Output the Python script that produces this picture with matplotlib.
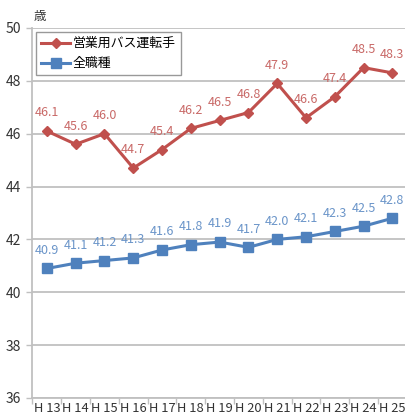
import numpy as np
import matplotlib
matplotlib.use('Agg')
from matplotlib import pyplot as plt

plt.rcParams['font.family'] = ['Noto Sans CJK JP', 'DejaVu Sans']

years = ['H 13', 'H 14', 'H 15', 'H 16', 'H 17', 'H 18', 'H 19',
         'H 20', 'H 21', 'H 22', 'H 23', 'H 24', 'H 25']
bus_drivers = [46.1, 45.6, 46.0, 44.7, 45.4, 46.2, 46.5,
               46.8, 47.9, 46.6, 47.4, 48.5, 48.3]
all_jobs = [40.9, 41.1, 41.2, 41.3, 41.6, 41.8, 41.9,
            41.7, 42.0, 42.1, 42.3, 42.5, 42.8]

RED = '#c0504d'
BLUE = '#4f81bd'
GRID = '#c0c0c0'


def add_labels(ax, xs, values, color):
    for x, v in zip(xs, values):
        ax.annotate('%.1f' % v, (x, v), xytext=(0, 13), textcoords='offset points',
                    ha='center', va='center', fontsize=9, color=color)


fig = plt.figure(figsize=(4.06, 4.2), dpi=100)
ax = fig.add_axes([0.080, 0.0524, 0.922, 0.881])

x = np.arange(len(years))
ax.plot(x, bus_drivers, color=RED, lw=2.2, marker='D', ms=5.5, label='営業用バス運転手', zorder=3)
ax.plot(x, all_jobs, color=BLUE, lw=2.2, marker='s', ms=6.5, label='全職種', zorder=3)
add_labels(ax, x, bus_drivers, '#c96a68')
add_labels(ax, x, all_jobs, '#6b95c9')

ax.set_xlim(-0.5, len(years) - 0.5)
ax.set_ylim(36, 50)
ax.set_yticks(np.arange(36, 51, 2))
ax.set_xticks(x)
ax.set_xticklabels(years)
ax.set_xticks(np.arange(-0.5, len(years)), minor=True)
ax.tick_params(axis='x', which='major', length=0, labelsize=9.3, colors='#333333', pad=3)
ax.tick_params(axis='x', which='minor', length=4, width=1, color=GRID)
ax.tick_params(axis='y', length=4, width=1, color=GRID, labelsize=10, labelcolor='#333333', pad=4)

ax.grid(axis='y', color=GRID, lw=1.3)
ax.set_axisbelow(True)
for side in ['top', 'right']:
    ax.spines[side].set_visible(False)
for side in ['left', 'bottom']:
    ax.spines[side].set_color(GRID)
    ax.spines[side].set_linewidth(1.3)

leg = ax.legend(loc='upper left', bbox_to_anchor=(0.01, 0.989), borderaxespad=0,
                fontsize=9.3, frameon=True, fancybox=False, handlelength=2.2,
                handletextpad=0.2, borderpad=0.4, labelspacing=0.55)
leg.get_frame().set_edgecolor('#808080')
leg.get_frame().set_linewidth(1.0)

fig.text(0.083, 0.96, '歳', fontsize=9, color='#333333', ha='left', va='center')

fig.savefig('out.png', dpi=100)
